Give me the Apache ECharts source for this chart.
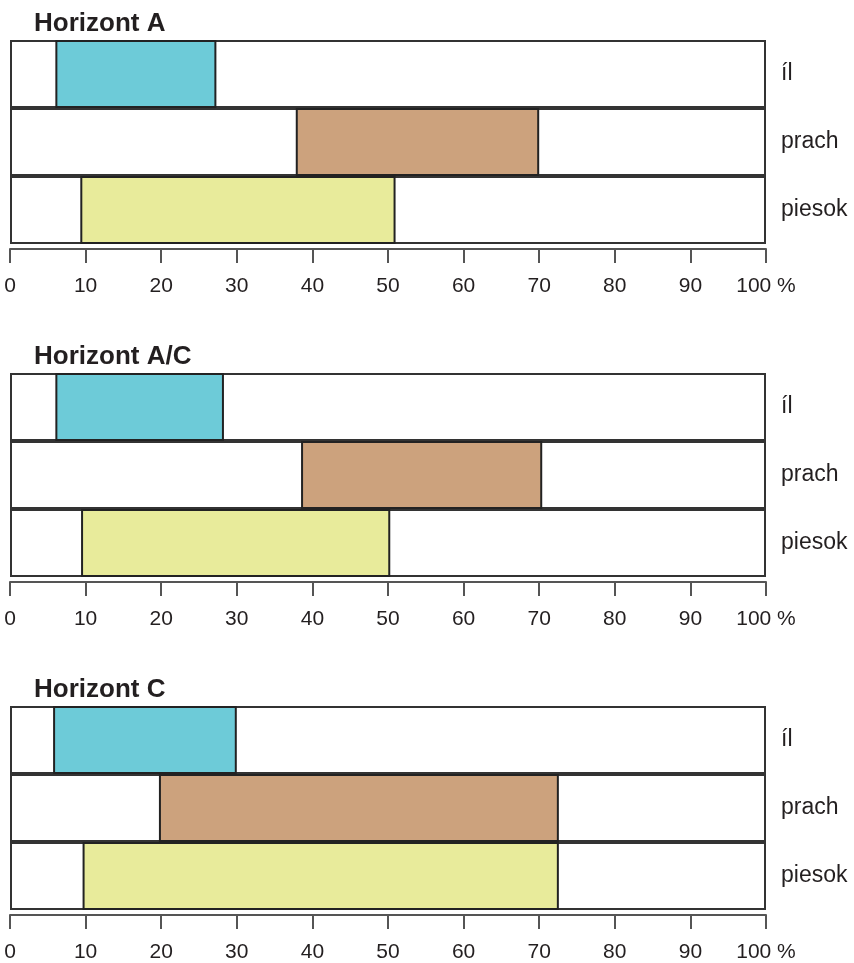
<!DOCTYPE html>
<html>
<head>
<meta charset="utf-8">
<script src="https://cdn.jsdelivr.net/npm/echarts@6/dist/echarts.min.js"></script>
<style>
html,body{margin:0;padding:0;background:#fff;}
#chart{width:854px;height:963px;}
</style>
</head>
<body>
<div id="chart"></div>
<script>
// ---- data ----
const categories = ['íl', 'prach', 'piesok'];
const panelTitles = ['Horizont A', 'Horizont A/C', 'Horizont C'];
const startA  = [6.0, 37.8, 9.3];
const endA    = [27.3, 70.0, 51.0];
const startAC = [6.0, 38.5, 9.4];
const endAC   = [28.3, 70.4, 50.3];
const startC  = [5.7, 19.7, 9.6];
const endC    = [30.0, 72.6, 72.6];
const axisMin = 0, axisMax = 100, axisStep = 10;

// ---- style ----
const barColors = ['#6dcbd8', '#cca27d', '#e8eb9b'];
const gridTops = [40, 373, 706];
const gridHeight = 204;
const frameColor = '#333';
const textColor = '#231f20';
const font = 'Liberation Sans, Arial, sans-serif';

const panels = [[startA, endA], [startAC, endAC], [startC, endC]];

const chart = echarts.init(document.getElementById('chart'), null, {renderer: 'canvas'});

const grid = [], xAxis = [], yAxis = [], series = [], graphic = [];
panels.forEach(([st, en], i) => {
  grid.push({left: 10, width: 756, top: gridTops[i], height: gridHeight, containLabel: false});
  xAxis.push({
    type: 'value', gridIndex: i, min: axisMin, max: axisMax, interval: axisStep,
    position: 'bottom', offset: 5,
    axisLine: {show: true, lineStyle: {color: '#555', width: 2}},
    axisTick: {show: true, length: 14, inside: false, lineStyle: {color: '#555', width: 2}},
    splitLine: {show: false},
    axisLabel: {
      margin: 27, color: textColor, fontFamily: font, fontSize: 21,
      formatter: v => v === axisMax ? v + ' %' : String(v)
    }
  });
  yAxis.push({
    type: 'category', gridIndex: i, data: categories, inverse: true, position: 'right',
    axisLine: {show: false}, axisTick: {show: false}, splitLine: {show: false},
    axisLabel: {margin: 15, align: 'left', color: textColor, fontFamily: font, fontSize: 23}
  });
  series.push({
    type: 'bar', xAxisIndex: i, yAxisIndex: i, silent: true,
    data: categories.map(() => axisMax),
    barWidth: '100%', barGap: '-100%', barCategoryGap: 0,
    itemStyle: {color: '#fff', borderColor: frameColor, borderWidth: 2},
    z: 1
  });
  series.push({
    type: 'bar', xAxisIndex: i, yAxisIndex: i, stack: 'r' + i, silent: true,
    data: st.slice(),
    barWidth: '100%', barGap: '-100%', barCategoryGap: 0,
    itemStyle: {color: 'rgba(0,0,0,0)', borderWidth: 0},
    z: 2
  });
  series.push({
    type: 'bar', xAxisIndex: i, yAxisIndex: i, stack: 'r' + i, silent: true,
    data: en.map((e, k) => ({value: +(e - st[k]).toFixed(2), itemStyle: {color: barColors[k]}})),
    barWidth: '100%', barGap: '-100%', barCategoryGap: 0,
    itemStyle: {borderColor: '#222', borderWidth: 2},
    z: 3
  });
  graphic.push({
    type: 'text', left: 34, top: gridTops[i] - 29,
    style: {text: panelTitles[i], fill: textColor, font: 'bold 26px ' + font}
  });
});

chart.setOption({
  animation: false,
  backgroundColor: '#fff',
  grid, xAxis, yAxis, series, graphic
});
</script>
</body>
</html>
